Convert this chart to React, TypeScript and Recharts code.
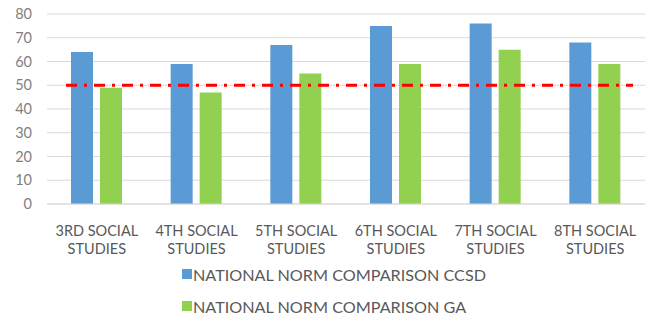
import React from "react";
import { BarChart, Bar, XAxis, YAxis, CartesianGrid, ReferenceLine } from "recharts";

const categories = ["3RD SOCIAL STUDIES", "4TH SOCIAL STUDIES", "5TH SOCIAL STUDIES", "6TH SOCIAL STUDIES", "7TH SOCIAL STUDIES", "8TH SOCIAL STUDIES"];
const ccsd = [64, 59, 67, 75, 76, 68];
const ga = [49, 47, 55, 59, 65, 59];
const yTicks = [0, 10, 20, 30, 40, 50, 60, 70, 80];
const normValue = 50;
const seriesNames = ["NATIONAL NORM COMPARISON CCSD", "NATIONAL NORM COMPARISON GA"];

const data = categories.map((c, i) => ({ name: c, ccsd: ccsd[i], ga: ga[i] }));

const BLUE = "#5B9BD5";
const GREEN = "#92D050";
const FONT = "Lato, 'Open Sans', sans-serif";

const XTick = (props: any) => {
  const { x, y, payload } = props;
  const words = String(payload.value).split(" ");
  const l1 = words.slice(0, 2).join(" ");
  const l2 = words.slice(2).join(" ");
  return (
    <g>
      <text x={x} y={y + 24} textAnchor="middle" fill="#595959" fontSize={14.5} fontFamily={FONT}>{l1}</text>
      <text x={x} y={y + 42} textAnchor="middle" fill="#595959" fontSize={14.5} fontFamily={FONT}>{l2}</text>
    </g>
  );
};

const RefShape = (p: any) => {
  const x1 = Number(p.x1 ?? 0);
  const x2 = Number(p.x2 ?? 0);
  const y1 = Number(p.y1 ?? 0);
  const y2 = Number(p.y2 ?? 0);
  return <line x1={x1 + 19} y1={y1} x2={x2 - 12} y2={y2} stroke="#FF0000" strokeWidth={3} strokeDasharray="11 7 3 7" />;
};

export default function App() {
  return (
    <div style={{ position: "absolute", left: 0, top: 0, width: 650, height: 314, background: "#fff" }}>
      <BarChart width={650} height={314} data={data} margin={{ top: 14, right: 5, left: 0, bottom: 60 }} barGap={7} barSize={22}>
        <CartesianGrid vertical={false} stroke="#D9D9D9" />
        <XAxis dataKey="name" tick={<XTick />} tickLine={false} axisLine={{ stroke: "#D9D9D9" }} interval={0} height={50} />
        <YAxis domain={[0, 80]} ticks={yTicks} width={47} axisLine={false} tickLine={false} tickSize={0} tickMargin={15}
          tick={{ fill: "#7F7F7F", fontSize: 14.5, fontFamily: FONT }} interval={0} />
        <Bar dataKey="ccsd" name={seriesNames[0]} fill={BLUE} isAnimationActive={false} />
        <Bar dataKey="ga" name={seriesNames[1]} fill={GREEN} isAnimationActive={false} />
        <ReferenceLine y={normValue} shape={<RefShape />} ifOverflow="extendDomain" />
      </BarChart>
      <div style={{ position: "absolute", left: 182, top: 258, fontFamily: FONT, fontSize: 16.2, color: "#595959" }}>
        {seriesNames.map((n, i) => (
          <div key={n} style={{ display: "flex", alignItems: "center", height: 32, whiteSpace: "nowrap" }}>
            <span style={{ display: "inline-block", width: 10, height: 10, background: i === 0 ? BLUE : GREEN, marginRight: 1 }} />
            <span>{n}</span>
          </div>
        ))}
      </div>
    </div>
  );
}
